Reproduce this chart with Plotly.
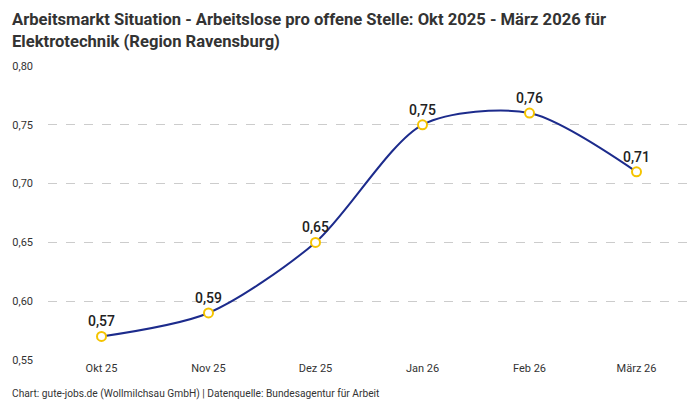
import plotly.graph_objects as go

months = ['Okt 25', 'Nov 25', 'Dez 25', 'Jan 26', 'Feb 26', 'März 26']
ratio = [0.57, 0.59, 0.65, 0.75, 0.76, 0.71]
yticks = [0.55, 0.60, 0.65, 0.70, 0.75, 0.80]

labels = [f'{v:.2f}'.replace('.', ',') for v in ratio]

fig = go.Figure()
fig.add_trace(go.Scatter(
    x=months,
    y=ratio,
    mode='lines+markers+text',
    line=dict(color='#1c2b8c', width=2, shape='spline', smoothing=0.8),
    marker=dict(size=9, color='white', line=dict(color='#f5c400', width=2)),
    text=labels,
    textposition='top center',
    textfont=dict(size=14, color='#222', family='Roboto', weight=500),
    cliponaxis=False,
    showlegend=False,
))

# page body adds 8px around the figure, margins account for that
fig.update_layout(
    width=700, height=400,
    margin=dict(l=40, r=18, t=58, b=48),
    paper_bgcolor='white', plot_bgcolor='white',
    separators=',.',
    font=dict(family='Roboto', color='#333', size=11),
    xaxis=dict(showgrid=False, showline=False, ticks='', range=[-0.5, 5.5],
               automargin=False, tickfont=dict(size=11, color='#333')),
    yaxis=dict(range=[0.55, 0.80], tickvals=yticks, tickformat='.2f',
               showgrid=True, gridcolor='#cccccc', griddash='dash', gridwidth=1,
               zeroline=False, showline=False, ticklabelstandoff=14,
               automargin=False, tickfont=dict(size=11, color='#333')),
)

fig.add_annotation(
    text='<b>Arbeitsmarkt Situation - Arbeitslose pro offene Stelle: Okt 2025 - März 2026 für<br>Elektrotechnik (Region Ravensburg)</b>',
    xref='paper', yref='paper', x=-0.059, y=1.197, xanchor='left', yanchor='top',
    align='left', showarrow=False, font=dict(size=16.6, color='#333'),
)

fig.add_annotation(
    text='Chart: gute-jobs.de (Wollmilchsau GmbH) | Datenquelle: Bundesagentur für Arbeit',
    xref='paper', yref='paper', x=-0.059, y=-0.09, xanchor='left', yanchor='top',
    showarrow=False, font=dict(size=10.2, color='#333'),
)

fig.write_html('out.html')
